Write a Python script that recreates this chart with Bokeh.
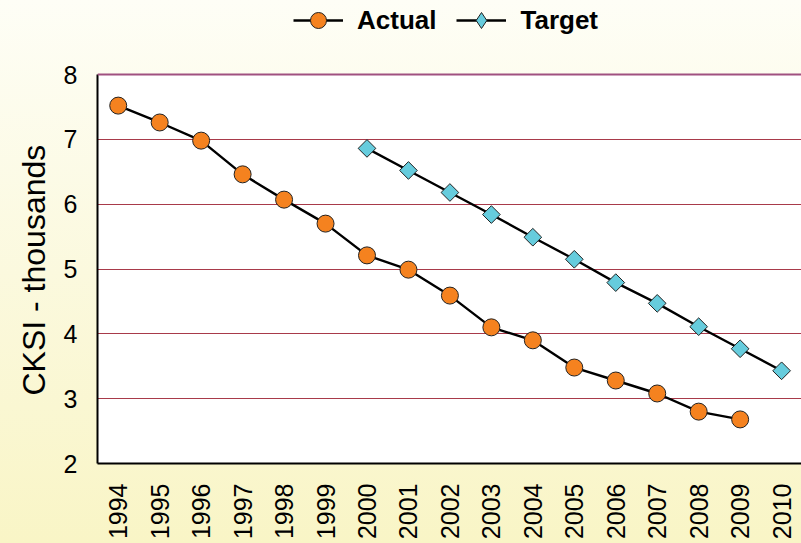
from bokeh.plotting import figure
from bokeh.models import Range1d, FixedTicker, Legend, LegendItem, Span, BoxAnnotation, Title
from bokeh.embed import file_html
from bokeh.resources import INLINE
import math

years_actual = [1994, 1995, 1996, 1997, 1998, 1999, 2000, 2001, 2002, 2003, 2004, 2005, 2006, 2007, 2008, 2009]
actual = [7.52, 7.26, 6.98, 6.46, 6.07, 5.70, 5.21, 4.99, 4.59, 4.10, 3.90, 3.48, 3.28, 3.08, 2.80, 2.68]
years_target = [2000, 2001, 2002, 2003, 2004, 2005, 2006, 2007, 2008, 2009, 2010]
target = [6.86, 6.52, 6.18, 5.84, 5.49, 5.15, 4.79, 4.47, 4.11, 3.77, 3.43]
year_ticks = list(range(1994, 2011))
y_ticks = [2, 3, 4, 5, 6, 7, 8]
y_min, y_max = 2, 8

# frame reaches the top of the canvas so the legend can sit above the data area
p = figure(width=801, height=543, output_backend="svg", toolbar_location=None,
           x_range=Range1d(1993.5, 2010.48), y_range=Range1d(y_min, 9.1414),
           min_border_left=97, min_border_right=0, min_border_top=0, min_border_bottom=80)
p.border_fill_color = None
p.background_fill_color = None
p.outline_line_color = None
p.styles = {"background": "linear-gradient(to bottom, #FEFEF6 0%, #FBF9DE 50%, #F9F5C6 100%)"}

p.add_layout(BoxAnnotation(bottom=y_min, top=y_max, fill_color="white", fill_alpha=1,
                           line_color=None, level="image"))

p.xgrid.grid_line_color = None
p.ygrid.ticker = FixedTicker(ticks=y_ticks)
p.ygrid.grid_line_color = "#A83A4A"
p.ygrid.grid_line_width = 1

p.add_layout(Span(location=y_max, dimension="width", line_color="#A05080", line_width=2))

p.xaxis.ticker = FixedTicker(ticks=year_ticks)
p.xaxis.major_label_orientation = math.pi / 2
p.yaxis.ticker = FixedTicker(ticks=y_ticks)
p.yaxis.bounds = (y_min, y_max)
for ax in (p.xaxis, p.yaxis):
    ax.axis_line_color = "black"
    ax.axis_line_width = 2
    ax.major_tick_line_color = None
    ax.minor_tick_line_color = None
    ax.major_label_text_font = "Liberation Sans"
    ax.major_label_text_font_size = "25px"
    ax.major_label_text_color = "black"
p.xaxis.major_label_standoff = 14
p.yaxis.major_label_standoff = 14

# axis title positioned along the data area (2..8), not the whole frame
ytitle = Title(text="CKSI - thousands", align="left", offset=68, standoff=18,
               text_font="Liberation Sans", text_font_size="32px",
               text_font_style="normal", text_color="black")
p.add_layout(ytitle, "left")

la = p.line(years_actual, actual, line_color="black", line_width=2.4)
sa = p.scatter(years_actual, actual, marker="circle", size=17, fill_color="#F5821F", line_color="#222222", line_width=1)
lt = p.line(years_target, target, line_color="black", line_width=2.4)
# legend key glyph (a diamond), fully hidden beneath the rotated squares drawn after it
st_key = p.scatter(years_target, target, marker="diamond", size=15,
                   fill_color="#66CCDD", line_color="#222222", line_width=1)
st = p.scatter(years_target, target, marker="square", angle=math.pi / 4, size=12.5,
               fill_color="#66CCDD", line_color="#222222", line_width=1)

legend = Legend(items=[LegendItem(label="Actual", renderers=[la, sa]),
                       LegendItem(label="Target", renderers=[lt, st_key])],
                orientation="horizontal", location=(196, 423),
                background_fill_alpha=0, border_line_color=None,
                label_text_font="Liberation Sans", label_text_font_size="26px",
                label_text_font_style="bold", label_text_color="black",
                glyph_width=50, glyph_height=40,
                label_standoff=14, spacing=20, padding=0, margin=0)
p.add_layout(legend)

open("out.html", "w").write(file_html(p, INLINE))
